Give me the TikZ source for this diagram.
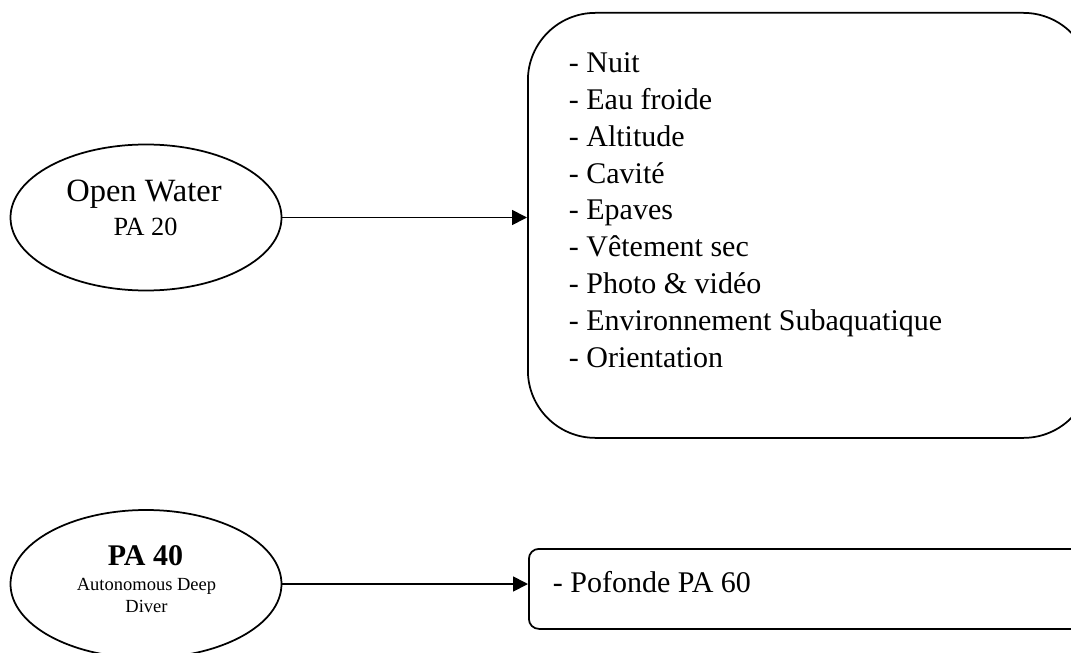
\documentclass[tikz,border=0pt]{standalone}
\usepackage{fontspec}
\setmainfont{Liberation Serif}
\usetikzlibrary{shapes.geometric,arrows.meta}

\begin{document}
\begin{tikzpicture}[x=0.4pt, y=-0.4pt, line width=0.7pt,
    level/.style={ellipse, draw, inner sep=0pt, minimum width=108.4pt, minimum height=58.4pt},
    spec/.style={draw, inner sep=0pt, anchor=north west},
    item/.style={anchor=base west, inner sep=0pt, font=\fontsize{12}{14}\selectfont},
    >={Triangle[length=6pt,width=6pt]}]
    \useasboundingbox (0,0) rectangle (1071,652);
    % Open Water and its specialities
    \node[level] (ow) at (146,217.5) {};
    \node[anchor=base, inner sep=0pt, font=\fontsize{13}{15}\selectfont] (owname) at (144,202) {Open Water};
    \node[anchor=base, inner sep=0pt, font=\fontsize{10.5}{12}\selectfont] (owpa) at (145.5,235) {PA 20};
    \node[spec, rounded corners=27pt, minimum width=225.2pt, minimum height=170pt] (spe) at (527,12) {};
    \foreach \t [count=\i from 0] in {Nuit, Eau froide, Altitude, Cavité, Epaves, Vêtement sec, Photo \& vidéo, Environnement Subaquatique, Orientation}
        \node[item] (spe\i) at (568,{73+36.75*\i}) {- \t};
    \draw[->] (ow) -- (ow -| spe.west);

    % PA 40
    \node[level, minimum height=59.2pt] (pa) at (146,584) {};
    \node[anchor=base, inner sep=0pt, font=\fontsize{12}{14}\selectfont\bfseries] (paname) at (145.5,565) {PA 40};
    \node[anchor=base, inner sep=0pt, font=\fontsize{7.4}{9}\selectfont] (padesc) at (146.5,590) {Autonomous Deep};
    \node[anchor=base, inner sep=0pt, font=\fontsize{7.4}{9}\selectfont] (padesc2) at (146.5,612) {Diver};
    \node[spec, rounded corners=4pt, minimum width=222.8pt, minimum height=32pt] (pof) at (528,548) {};
    \node[item] (poftxt) at (552,592) {- Pofonde PA 60};
    \draw[->] (pa) -- (pa -| pof.west);
\end{tikzpicture}
\end{document}
